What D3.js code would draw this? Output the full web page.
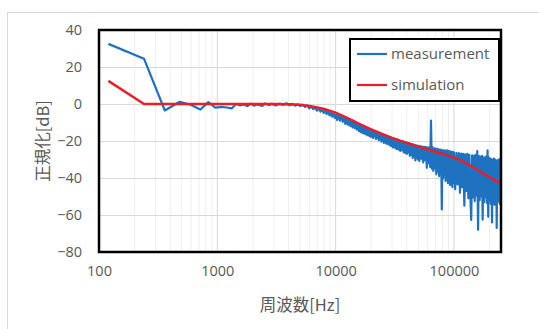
<!DOCTYPE html>
<html>
<head>
<meta charset="utf-8">
<script src="https://cdn.jsdelivr.net/npm/d3@7"></script>
<style>
  html, body { margin: 0; padding: 0; background: #fff; }
  svg { display: block; }
  text { font-family: "Open Sans", "Noto Sans CJK JP", sans-serif; fill: #595959; }
</style>
</head>
<body>
<svg id="chart" width="539" height="329"></svg>
<script>
// Frequency response: measured FFT magnitude vs. simulated response (normalised, dB)
const xTicks = [100, 1000, 10000, 100000];
const yTicks = [40, 20, 0, -20, -40, -60, -80];
const seriesNames = ["measurement", "simulation"];
const xTitle = "周波数[Hz]";
const yTitle = "正規化[dB]";

const simHz = [120, 240, 1000, 3000, 4000, 5000, 6000, 7000, 8000, 9000, 10000, 12000, 14000,
  16000, 18000, 20000, 25000, 30000, 35000, 40000, 50000, 60000, 70000, 80000, 90000, 100000,
  120000, 140000, 160000, 180000, 200000, 225000, 250000];
const simDb = [12.5, 0, 0, 0, -0.1, -0.4, -1.0, -1.8, -2.7, -3.7, -4.7, -6.9, -9.0,
  -10.8, -12.4, -13.7, -16.3, -18.3, -19.8, -21.0, -23.0, -24.5, -25.8, -26.9, -28.0, -29.0,
  -31.2, -33.6, -35.8, -37.8, -39.6, -41.4, -43.0];

const measHz = [
  120, 240, 360, 480, 600, 720, 840, 960, 1080, 1200, 1320, 1440, 1560,
  1680, 1800, 1920, 2040, 2160, 2400, 2520, 2760, 2880, 3120, 3360, 3600, 3840, 4080, 4320,
  4560, 4800, 5040, 5280, 5520, 5760, 6000, 6240, 6480, 6720, 6960, 7200, 7440, 7680, 7920,
  8160, 8400, 8640, 8880, 9120, 9360, 9600, 9840, 10080,
  10300, 10600, 10900, 11200, 11500, 11800, 12100, 12400, 12700, 13000, 13300, 13600, 13900,
  14200, 14500, 14800, 15100, 15400, 15700, 16000, 16300, 16600, 16900, 17200, 17500, 17800,
  18100, 18400, 18700, 19000, 19300, 19600, 19900,
  20200, 20800, 21400, 22000, 22600, 23200, 23800, 24400, 25000, 25600, 26200, 26800, 27400,
  28000, 28600, 29200, 29800, 30400, 31000, 31600, 32200, 32800, 33400, 34000, 34600, 35200,
  35800, 36400, 37000, 37600, 38200, 38800, 39400, 40000, 40600, 41200, 41800, 42400, 43000,
  43600, 44200, 44800, 45400, 46000, 46600, 47200, 47800, 48400, 49000, 49600,
  50000, 51000, 52000, 53000, 54000, 55000, 56000, 57000, 58000, 59000, 60000, 61000, 62000,
  63000, 64000, 65000, 66000, 67000, 68000, 69000, 70000, 71000, 72000, 73000, 74000, 75000,
  76000, 77000, 78000, 79000, 80000, 81000, 82000, 83000, 84000, 85000, 86000, 87000, 88000,
  89000, 90000, 91000, 92000, 93000, 94000, 95000, 96000, 97000, 98000, 99000,
  100000, 102500, 105000, 107500, 110000, 112500, 115000, 117500, 120000, 122500, 125000,
  127500, 130000, 132500, 135000, 137500, 140000, 142500, 145000, 147500, 150000, 152500,
  155000, 157500, 160000, 162500, 165000, 167500, 170000, 172500, 175000, 177500, 180000,
  182500, 185000, 187500, 190000, 192500, 195000, 197500, 200000, 202500, 205000, 207500,
  210000, 212500, 215000, 217500, 220000, 222500, 225000, 227500, 230000, 232500, 235000,
  237500, 240000, 242500, 245000, 247500, 250000];
const measDb = [
  32.5, 24.5, -3.5, 1.2, -0.5, -3.0, 1.0, -2.0, -1.6, -1.9, -2.4, 0.0, -0.8,
  -0.3, -1.2, 0.2, -0.9, -0.2, -1.0, 0.3, -0.6, 0.1, -0.8, 0.2, -0.5, 0.4, -0.7, 0.1,
  -0.9, -0.2, -1.1, -0.4, -1.6, -0.8, -2.3, -1.3, -2.8, -1.9, -3.6, -2.4, -4.1, -2.9, -4.8,
  -3.5, -5.4, -4.0, -6.2, -4.6, -6.8, -5.1, -7.6, -5.6,
  -8.6, -6.0, -9.0, -6.4, -9.6, -7.0, -10.8, -7.6, -11.2, -8.2, -11.9, -8.7, -12.6,
  -9.4, -13.1, -10.0, -13.8, -10.6, -14.5, -11.3, -15.2, -11.8, -15.6, -12.2, -16.0, -12.6,
  -16.4, -13.0, -16.9, -13.3, -17.3, -13.7, -17.8,
  -14.0, -18.4, -14.6, -18.9, -15.1, -19.6, -15.7, -20.3, -16.3, -21.0, -16.8, -21.4, -17.3,
  -22.0, -17.7, -22.6, -18.3, -23.4, -18.6, -23.6, -19.0, -24.4, -19.3, -24.6, -19.7, -25.3,
  -20.0, -25.0, -20.2, -26.1, -20.5, -26.4, -20.8, -27.0, -21.0, -26.2, -21.2, -28.0, -21.5,
  -27.4, -21.7, -29.1, -21.9, -28.3, -22.2, -30.5, -22.4, -29.0, -22.6, -30.0,
  -22.6, -30.8, -22.8, -29.5, -23.0, -31.6, -23.2, -30.4, -23.3, -34.5, -23.5, -32.0, -23.6,
  -34.0, -9.0, -35.0, -23.4, -36.2, -24.0, -34.8, -24.1, -38.0, -24.3, -36.5, -24.5, -39.0,
  -24.6, -37.2, -24.8, -57.0, -25.0, -40.2, -25.1, -38.4, -25.2, -41.6, -25.3, -39.5, -25.0,
  -42.8, -25.5, -40.3, -25.6, -43.8, -25.7, -41.5, -25.8, -44.9, -26.0, -42.6,
  -26.2, -46.0, -26.4, -43.5, -26.6, -48.0, -26.8, -45.0, -27.0, -55.0, -27.2,
  -47.0, -27.0, -51.0, -27.5, -48.5, -62.7, -27.8, -50.5, -28.0, -52.5, -27.5,
  -49.5, -25.5, -68.0, -28.2, -52.0, -28.5, -50.0, -28.0, -62.5, -28.8, -53.0,
  -29.0, -50.5, -28.5, -53.5, -25.0, -61.0, -29.0, -52.0, -29.5, -54.0, -29.8,
  -64.0, -30.5, -51.5, -29.5, -54.5, -30.0, -52.0, -30.5, -67.0, -31.0, -53.0,
  -30.0, -51.0, -30.5, -54.0, -29.5, -48.0];

const svg = d3.select("#chart");
const plot = { left: 99, top: 30, right: 501, bottom: 252 };

// Chart-area frame (only the top and left edges fall inside the canvas)
svg.append("rect").attr("x", 7.5).attr("y", 12.5).attr("width", 700).attr("height", 500)
  .attr("fill", "#fff").attr("stroke", "#d9d9d9").attr("stroke-width", 1);

const x = d3.scaleLog().domain([100, 250000]).range([plot.left, plot.right]);
const y = d3.scaleLinear().domain([-80, 40]).range([plot.bottom, plot.top]);

// Gridlines
const minor = [];
for (let d = 100; d < 250000; d *= 10) for (let k = 2; k <= 9; k++) if (d * k < 250000) minor.push(d * k);
svg.append("g").selectAll("line").data(minor).join("line")
  .attr("x1", d => x(d)).attr("x2", d => x(d)).attr("y1", plot.top).attr("y2", plot.bottom)
  .attr("stroke", "#efefef").attr("stroke-width", 1);
svg.append("g").selectAll("line").data(xTicks.slice(1)).join("line")
  .attr("x1", d => x(d)).attr("x2", d => x(d)).attr("y1", plot.top).attr("y2", plot.bottom)
  .attr("stroke", "#d9d9d9").attr("stroke-width", 1);
svg.append("g").selectAll("line").data(yTicks.slice(1, -1)).join("line")
  .attr("x1", plot.left).attr("x2", plot.right).attr("y1", d => Math.round(y(d)) + 0.5).attr("y2", d => Math.round(y(d)) + 0.5)
  .attr("stroke", "#d9d9d9").attr("stroke-width", 1);

// Axes (labels only; the frame is drawn as the plot border)
const xAxis = svg.append("g").attr("transform", `translate(0,${plot.bottom})`)
  .call(d3.axisBottom(x).tickValues(xTicks).tickFormat(d3.format("d")).tickSize(0).tickPadding(14));
const yAxis = svg.append("g").attr("transform", `translate(${plot.left},0)`)
  .call(d3.axisLeft(y).tickValues(yTicks).tickSize(0).tickPadding(17));
[xAxis, yAxis].forEach(g => {
  g.select(".domain").remove();
  g.selectAll("text").attr("font-size", 14.5).attr("fill", "#595959")
    .style("font-family", "'Open Sans', sans-serif");
});

// Series
svg.append("clipPath").attr("id", "clip").append("rect")
  .attr("x", plot.left).attr("y", plot.top)
  .attr("width", plot.right - plot.left).attr("height", plot.bottom - plot.top);

const line = d3.line().x(d => x(d[0])).y(d => y(d[1]));
const meas = measHz.map((f, i) => [f, measDb[i]]);
const sim = simHz.map((f, i) => [f, simDb[i]]);

const series = svg.append("g").attr("clip-path", "url(#clip)");
series.append("path").datum(meas).attr("d", line)
  .attr("fill", "none").attr("stroke", "#1f72c0").attr("stroke-width", 2.2)
  .attr("stroke-linejoin", "round");
series.append("path").datum(sim).attr("d", line)
  .attr("fill", "none").attr("stroke", "#ee1c25").attr("stroke-width", 2.4)
  .attr("stroke-linejoin", "round");

// Plot border
svg.append("rect").attr("x", plot.left).attr("y", plot.top)
  .attr("width", plot.right - plot.left).attr("height", plot.bottom - plot.top)
  .attr("fill", "none").attr("stroke", "#000").attr("stroke-width", 2.5);

// Axis titles
svg.append("text").attr("x", 300).attr("y", 311).attr("text-anchor", "middle")
  .attr("font-size", 16.5).style("font-family", "'Noto Sans CJK JP', sans-serif").text(xTitle);
svg.append("text").attr("transform", `translate(49,141) rotate(-90)`).attr("text-anchor", "middle")
  .attr("font-size", 16.5).style("font-family", "'Noto Sans CJK JP', sans-serif").text(yTitle);

// Legend
const lg = svg.append("g");
lg.append("rect").attr("x", 350).attr("y", 39).attr("width", 149).attr("height", 62)
  .attr("fill", "#fff").attr("stroke", "#000").attr("stroke-width", 2);
const legendColors = ["#1f72c0", "#ee1c25"];
const legendY = [54, 85];
seriesNames.forEach((name, i) => {
  lg.append("line").attr("x1", 357).attr("x2", 387).attr("y1", legendY[i]).attr("y2", legendY[i])
    .attr("stroke", legendColors[i]).attr("stroke-width", 2.2);
  lg.append("text").attr("x", 391).attr("y", legendY[i]).attr("dy", "0.35em")
    .attr("font-size", 15).text(name);
});
</script>
</body>
</html>
